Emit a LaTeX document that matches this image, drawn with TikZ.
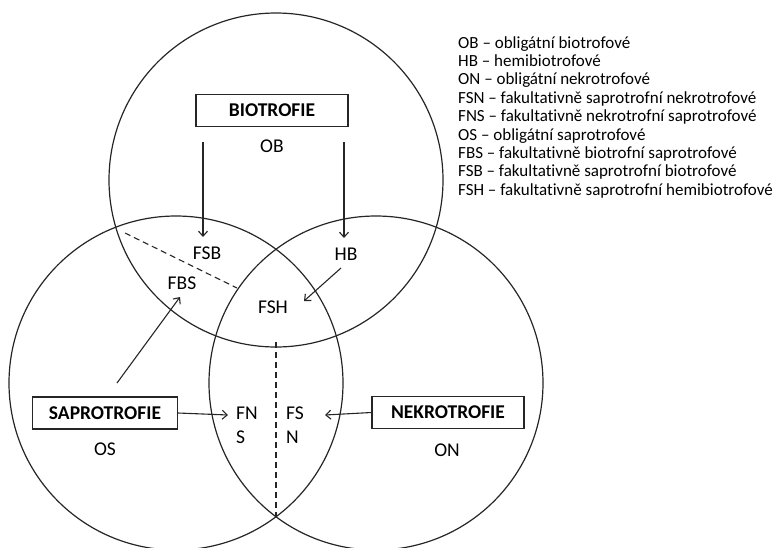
\documentclass[tikz,border=0pt]{standalone}
\usepackage{fontspec}
\setmainfont[Ligatures=NoCommon]{Carlito}
\usetikzlibrary{arrows.meta}
\tikzset{
  circ/.style={line width=1.2pt, draw=black!85},
  boxn/.style={draw=black!85, line width=1.1pt, minimum width=#1, minimum height=32pt, inner sep=0pt, font=\fontsize{19.5}{20}\selectfont\bfseries},
  lab/.style={inner sep=0pt, font=\fontsize{19.5}{24}\selectfont},
  arr/.style={line width=1.1pt, draw=black!85, -{Straight Barb[length=5pt,width=9pt]}},
  dsh/.style={line width=1.1pt, draw=black!85, dash pattern=on 6pt off 4pt},
}
\begin{document}
\begin{tikzpicture}[x=1pt,y=-1pt]
\useasboundingbox (0,0) rectangle (780,547);
% circles
\draw[circ] (276,180) circle[radius=167pt];
\draw[circ] (176,383) circle[radius=167pt];
\draw[circ] (376,383) circle[radius=167pt];
% boxes and labels
\node[boxn=152pt] (bio) at (272,110.5) {BIOTROFIE};
\node[lab] (ob) at (272,146) {OB};
\node[boxn=145pt] (sap) at (105,413) {SAPROTROFIE};
\node[lab] (os) at (105,449) {OS};
\node[boxn=152pt] (nek) at (448,412.5) {NEKROTROFIE};
\node[lab] (on) at (447,450) {ON};
\node[lab] (fsb) at (207,253) {FSB};
\node[lab] (fbs) at (182,283) {FBS};
\node[lab] (fsh) at (273,307) {FSH};
\node[lab] (hb) at (346,254) {HB};
\node[lab, anchor=west, align=left] (fns) at (236,425) {FN\\S};
\node[lab, anchor=west, align=left] (fsn) at (286,425) {FS\\N};
% legend
\node[anchor=north west, align=left, inner sep=0pt, font=\fontsize{17}{18.4}\selectfont] (leg) at (458,36) {%
OB – obligátní biotrofové\\
HB – hemibiotrofové\\
ON – obligátní nekrotrofové\\
FSN – fakultativně saprotrofní nekrotrofové\\
FNS – fakultativně nekrotrofní saprotrofové\\
OS – obligátní saprotrofové\\
FBS – fakultativně biotrofní saprotrofové\\
FSB – fakultativně saprotrofní biotrofové\\
FSH – fakultativně saprotrofní hemibiotrofové};
% arrow coordinates
\coordinate (a1s) at (203,142);
\coordinate (a1e) at (203,237);
\coordinate (a2s) at (344,142);
\coordinate (a2e) at (344,238);
\coordinate (a3s) at (341,268);
\coordinate (a3e) at (304,301);
\coordinate (a4s) at (117,383);
\coordinate (a4e) at (180,297);
\coordinate (a5e) at (228,415);
\coordinate (a6e) at (325,415);
\coordinate (d1s) at (125,233);
\coordinate (d1e) at (237,288);
\coordinate (d2s) at (276,342);
\coordinate (d2e) at (276,516);
\draw[arr] (a1s) -- (a1e);
\draw[arr] (a2s) -- (a2e);
\draw[arr] (a3s) -- (a3e);
\draw[arr] (a4s) -- (a4e);
\draw[arr] (sap.east) -- (a5e);
\draw[arr] (nek.west) -- (a6e);
\draw[dsh] (d1s) -- (d1e);
\draw[dsh] (d2s) -- (d2e);
\end{tikzpicture}
\end{document}
